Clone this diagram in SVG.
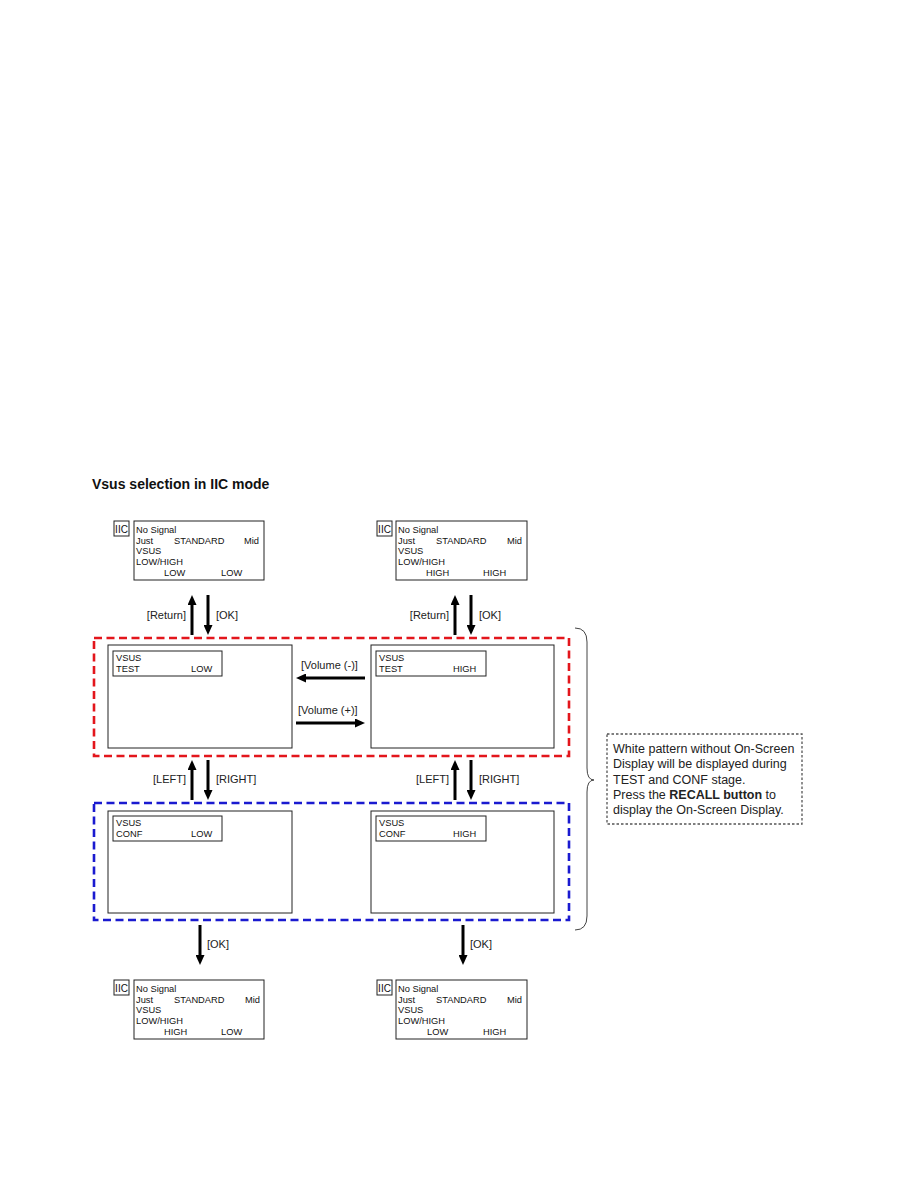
<svg xmlns="http://www.w3.org/2000/svg" width="918" height="1188" viewBox="0 0 918 1188">
<style>
text{font-family:"Liberation Sans",Arial,sans-serif;fill:#111}
.title{font-size:14px;font-weight:bold}
.s{font-size:9.3px}
.iic{font-size:10px;text-anchor:middle}
.lbl{font-size:11px;fill:#222}
.note{font-size:12.5px;fill:#222}
.box{fill:#fff;stroke:#222;stroke-width:1}
.arr{stroke:#000;stroke-width:3;fill:none}
.red{fill:none;stroke:#e3161c;stroke-width:2.6;stroke-dasharray:8 4.5}
.blue{fill:none;stroke:#1a1ad0;stroke-width:2.6;stroke-dasharray:8 4.5}
</style>
<defs>
<marker id="ah" markerUnits="userSpaceOnUse" markerWidth="10" markerHeight="9" refX="0" refY="4.5" orient="auto">
<path d="M0,0 L10,4.5 L0,9 z" fill="#000"/>
</marker>
</defs>
<rect width="918" height="1188" fill="#fff"/>
<text class="title" x="92" y="489">Vsus selection in IIC mode</text>

<g id="groups">
<rect id="test-stage" class="red" x="94" y="638" width="475" height="118"/>
<rect id="conf-stage" class="blue" x="94" y="803" width="475" height="117"/>
</g>

<g id="menu-low-low">
<rect class="box" x="114" y="521" width="15" height="15"/>
<text class="iic" x="121.5" y="532.5">IIC</text>
<rect class="box" x="134" y="521" width="130" height="59"/>
<text class="s" x="136" y="533">No Signal</text>
<text class="s" x="136" y="544">Just</text><text class="s" x="174" y="544">STANDARD</text><text class="s" x="244" y="544">Mid</text>
<text class="s" x="136" y="554">VSUS</text>
<text class="s" x="136" y="565">LOW/HIGH</text>
<text class="s" x="164" y="576">LOW</text><text class="s" x="221" y="576">LOW</text>
</g>

<g id="menu-high-high">
<rect class="box" x="377" y="521" width="15" height="15"/>
<text class="iic" x="384.5" y="532.5">IIC</text>
<rect class="box" x="396" y="521" width="131" height="59"/>
<text class="s" x="398" y="533">No Signal</text>
<text class="s" x="398" y="544">Just</text><text class="s" x="436" y="544">STANDARD</text><text class="s" x="507" y="544">Mid</text>
<text class="s" x="398" y="554">VSUS</text>
<text class="s" x="398" y="565">LOW/HIGH</text>
<text class="s" x="426" y="576">HIGH</text><text class="s" x="483" y="576">HIGH</text>
</g>

<g id="test-low">
<rect class="box" x="108" y="645" width="184" height="103"/>
<rect class="box" x="113" y="651" width="109" height="25"/>
<text class="s" x="116" y="661">VSUS</text>
<text class="s" x="116" y="672">TEST</text><text class="s" x="191" y="672">LOW</text>
</g>

<g id="test-high">
<rect class="box" x="371" y="645" width="183" height="103"/>
<rect class="box" x="376" y="651" width="110" height="25"/>
<text class="s" x="379" y="661">VSUS</text>
<text class="s" x="379" y="672">TEST</text><text class="s" x="453" y="672">HIGH</text>
</g>

<g id="conf-low">
<rect class="box" x="108" y="811" width="184" height="102"/>
<rect class="box" x="113" y="816" width="109" height="25"/>
<text class="s" x="116" y="826">VSUS</text>
<text class="s" x="116" y="837">CONF</text><text class="s" x="191" y="837">LOW</text>
</g>

<g id="conf-high">
<rect class="box" x="371" y="811" width="183" height="102"/>
<rect class="box" x="376" y="816" width="110" height="25"/>
<text class="s" x="379" y="826">VSUS</text>
<text class="s" x="379" y="837">CONF</text><text class="s" x="453" y="837">HIGH</text>
</g>

<g id="menu-high-low">
<rect class="box" x="114" y="980" width="15" height="15"/>
<text class="iic" x="121.5" y="991.5">IIC</text>
<rect class="box" x="134" y="980" width="130" height="59"/>
<text class="s" x="136" y="992">No Signal</text>
<text class="s" x="136" y="1003">Just</text><text class="s" x="174" y="1003">STANDARD</text><text class="s" x="245" y="1003">Mid</text>
<text class="s" x="136" y="1013">VSUS</text>
<text class="s" x="136" y="1024">LOW/HIGH</text>
<text class="s" x="164" y="1035">HIGH</text><text class="s" x="221" y="1035">LOW</text>
</g>

<g id="menu-low-high">
<rect class="box" x="377" y="980" width="15" height="15"/>
<text class="iic" x="384.5" y="991.5">IIC</text>
<rect class="box" x="396" y="980" width="131" height="59"/>
<text class="s" x="398" y="992">No Signal</text>
<text class="s" x="398" y="1003">Just</text><text class="s" x="436" y="1003">STANDARD</text><text class="s" x="507" y="1003">Mid</text>
<text class="s" x="398" y="1013">VSUS</text>
<text class="s" x="398" y="1024">LOW/HIGH</text>
<text class="s" x="427" y="1035">LOW</text><text class="s" x="483" y="1035">HIGH</text>
</g>

<g id="note">
<path d="M575,628 Q587,628 587,642 L587,768 Q587,780 594,780 Q587,780 587,792 L587,916 Q587,930 575,930" fill="none" stroke="#444" stroke-width="1"/>
<rect x="607" y="734" width="195" height="90" fill="#fff" stroke="#555" stroke-width="1.3" stroke-dasharray="2.5 2"/>
<text class="note" x="613" y="753">White pattern without On-Screen</text>
<text class="note" x="613" y="768">Display will be displayed during</text>
<text class="note" x="613" y="784">TEST and CONF stage.</text>
<text class="note" x="613" y="799">Press the <tspan font-weight="bold">RECALL button</tspan> to</text>
<text class="note" x="613" y="814">display the On-Screen Display.</text>
</g>

<g id="connectors">
<line class="arr" x1="192" y1="635" x2="192" y2="605" marker-end="url(#ah)"/>
<line class="arr" x1="208" y1="595" x2="208" y2="625" marker-end="url(#ah)"/>
<text class="lbl" x="186" y="619" text-anchor="end">[Return]</text>
<text class="lbl" x="216" y="619">[OK]</text>
<line class="arr" x1="455" y1="635" x2="455" y2="605" marker-end="url(#ah)"/>
<line class="arr" x1="471" y1="595" x2="471" y2="625" marker-end="url(#ah)"/>
<text class="lbl" x="449" y="619" text-anchor="end">[Return]</text>
<text class="lbl" x="479" y="619">[OK]</text>

<line class="arr" x1="365" y1="678" x2="306" y2="678" marker-end="url(#ah)"/>
<text class="lbl" x="301" y="669">[Volume (-)]</text>
<line class="arr" x1="296" y1="723" x2="355" y2="723" marker-end="url(#ah)"/>
<text class="lbl" x="298" y="714">[Volume (+)]</text>

<line class="arr" x1="192" y1="800" x2="192" y2="770" marker-end="url(#ah)"/>
<line class="arr" x1="208" y1="760" x2="208" y2="790" marker-end="url(#ah)"/>
<text class="lbl" x="186" y="783" text-anchor="end">[LEFT]</text>
<text class="lbl" x="216" y="783">[RIGHT]</text>
<line class="arr" x1="455" y1="800" x2="455" y2="770" marker-end="url(#ah)"/>
<line class="arr" x1="471" y1="760" x2="471" y2="790" marker-end="url(#ah)"/>
<text class="lbl" x="449" y="783" text-anchor="end">[LEFT]</text>
<text class="lbl" x="479" y="783">[RIGHT]</text>

<line class="arr" x1="200" y1="925" x2="200" y2="955" marker-end="url(#ah)"/>
<text class="lbl" x="207" y="948">[OK]</text>
<line class="arr" x1="463" y1="925" x2="463" y2="955" marker-end="url(#ah)"/>
<text class="lbl" x="470" y="948">[OK]</text>
</g>
</svg>
